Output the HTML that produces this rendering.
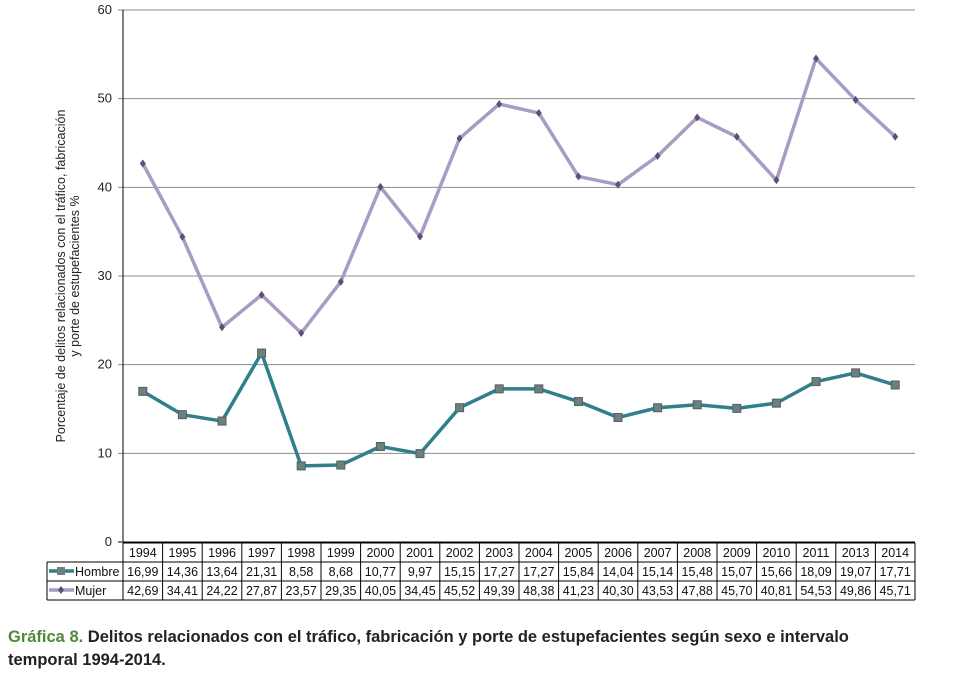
<!DOCTYPE html>
<html><head><meta charset="utf-8"><style>
body{margin:0;background:#fff;width:954px;height:678px;overflow:hidden;font-family:"Liberation Sans",sans-serif}
</style></head><body>
<svg id="c" width="954" height="678" style="position:absolute;left:0;top:0"></svg>
<script>
const years=["1994","1995","1996","1997","1998","1999","2000","2001","2002","2003","2004","2005","2006","2007","2008","2009","2010","2011","2013","2014"];
const hombre=[16.99,14.36,13.64,21.31,8.58,8.68,10.77,9.97,15.15,17.27,17.27,15.84,14.04,15.14,15.48,15.07,15.66,18.09,19.07,17.71];
const mujer=[42.69,34.41,24.22,27.87,23.57,29.35,40.05,34.45,45.52,49.39,48.38,41.23,40.30,43.53,47.88,45.70,40.81,54.53,49.86,45.71];
const yTicks=[0,10,20,30,40,50,60];
const svg=document.getElementById('c');const NS='http://www.w3.org/2000/svg';
function mk(t,a,txt){const e=document.createElementNS(NS,t);for(const k in a)e.setAttribute(k,a[k]);if(txt!=null)e.textContent=txt;svg.appendChild(e);return e;}
const X0=123,X1=915,Y0=542,Y1=10;
const cw=(X1-X0)/years.length;
const x=i=>X0+cw*(i+0.5);
const y=v=>Y0-(v/60)*(Y0-Y1);
yTicks.forEach(t=>{
 let l=mk('line',{x1:118,x2:X1,y1:y(t),y2:y(t),stroke:t?'#8c8c8c':'#000','stroke-width':1});
 
 let tx=mk('text',{x:112,y:y(t)+4,'text-anchor':'end','font-size':13,fill:'#222'},String(t));
 
});
let ax=mk('line',{x1:X0,x2:X0,y1:Y1,y2:Y0,stroke:'#000','stroke-width':1});

let yt=mk('text',{transform:'translate(65,276) rotate(-90)','text-anchor':'middle','font-size':12.5,fill:'#222'});

yt.innerHTML='<tspan x="0" dy="0">Porcentaje de delitos relacionados con el tráfico, fabricación</tspan><tspan x="0" dy="14">y porte de estupefacientes %</tspan>';
function series(vals,color,name,marker){
 let p=mk('polyline',{points:vals.map((v,i)=>x(i)+','+y(v)).join(' '),fill:'none',stroke:color,'stroke-width':3.5,'stroke-linejoin':'round'});
 
 vals.forEach((v,i)=>{
  let m;
  if(marker==='sq')m=mk('rect',{x:x(i)-4,y:y(v)-4,width:8,height:8,fill:'#6e7f80',stroke:'#4f6060'});
  else m=mk('path',{d:`M${x(i)},${y(v)-4}L${x(i)+3},${y(v)}L${x(i)},${y(v)+4}L${x(i)-3},${y(v)}Z`,fill:'#5e4f7a'});
  
 });
}
series(mujer,'#a99bc4','mujer','di');
series(hombre,'#2f7f8c','hombre','sq');
const rows=[543,562,581,600];
rows.forEach((r,i)=>{let l=mk('line',{x1:i?47:X0,x2:X1,y1:r,y2:r,stroke:'#000'});});
let lb=mk('line',{x1:47,x2:47,y1:562,y2:600,stroke:'#000'});
for(let i=0;i<=years.length;i++){let l=mk('line',{x1:X0+cw*i,x2:X0+cw*i,y1:543,y2:600,stroke:'#000'});}
const fmt=v=>v.toFixed(2).replace('.',',');
years.forEach((yr,i)=>{
 let a=mk('text',{x:x(i),y:557,'text-anchor':'middle','font-size':12.5,fill:'#111'},yr);
 let b=mk('text',{x:x(i),y:576,'text-anchor':'middle','font-size':12.5,fill:'#111'},fmt(hombre[i]));
 let c=mk('text',{x:x(i),y:595,'text-anchor':'middle','font-size':12.5,fill:'#111'},fmt(mujer[i]));
});
let k1=mk('line',{x1:49,x2:74,y1:571,y2:571,stroke:'#2f7f8c','stroke-width':3.5});
let k1m=mk('rect',{x:57,y:567,width:8,height:8,fill:'#6e7f80'});
let t1=mk('text',{x:75,y:576,'font-size':12.5,fill:'#111'},'Hombre');
let k2=mk('line',{x1:49,x2:74,y1:590,y2:590,stroke:'#a99bc4','stroke-width':3.5});
let k2m=mk('path',{d:'M61,586L64,590L61,594L58,590Z',fill:'#5e4f7a'});
let t2=mk('text',{x:75,y:595,'font-size':12.5,fill:'#111'},'Mujer');
</script>
<div style="position:absolute;left:8px;top:626px;width:900px;font-size:16.5px;font-weight:bold;color:#222;line-height:23px"><span style="color:#4e8a3a">Gráfica 8.</span> Delitos relacionados con el tráfico, fabricación y porte de estupefacientes según sexo e intervalo temporal 1994-2014.</div>
</body></html>
